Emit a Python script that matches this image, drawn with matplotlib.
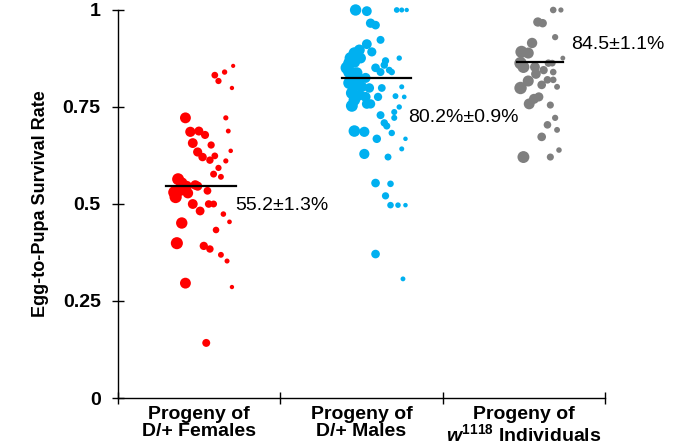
import numpy as np
import matplotlib.pyplot as plt

plt.rcParams['font.family'] = ['Liberation Sans', 'DejaVu Sans']
plt.rcParams['mathtext.fontset'] = 'custom'
plt.rcParams['mathtext.rm'] = 'Liberation Sans:bold'
plt.rcParams['mathtext.it'] = 'Liberation Sans:italic:bold'

# survival rate of each vial and the number of eggs scored in it
red_rate = [0.856, 0.832, 0.840, 0.817, 0.799, 0.722, 0.722, 0.686, 0.688, 0.678,
            0.688, 0.657, 0.652, 0.637, 0.634, 0.621, 0.613, 0.624, 0.611, 0.593,
            0.577, 0.570, 0.564, 0.554, 0.518, 0.536, 0.528, 0.549, 0.534, 0.500,
            0.482, 0.500, 0.500, 0.474, 0.454, 0.451, 0.433, 0.399, 0.392, 0.384,
            0.369, 0.353, 0.296, 0.286, 0.142, 0.546, 0.530, 0.546]
red_eggs = [11, 26, 18, 23, 12, 50, 17, 46, 39, 34,
            15, 44, 29, 13, 40, 36, 30, 26, 17, 23,
            27, 21, 56, 53, 58, 54, 48, 42, 32, 44,
            38, 31, 27, 19, 14, 53, 25, 57, 35, 30,
            21, 16, 50, 12, 33, 49, 59, 40]

blue_rate = [1.000, 0.997, 1.000, 1.000, 1.000, 0.966, 0.961, 0.923, 0.912, 0.897,
             0.889, 0.876, 0.863, 0.892, 0.869, 0.876, 0.851, 0.840, 0.858, 0.845,
             0.840, 0.840, 0.838, 0.825, 0.812, 0.807, 0.802, 0.799, 0.786, 0.781,
             0.776, 0.799, 0.802, 0.776, 0.778, 0.776, 0.753, 0.758, 0.758, 0.729,
             0.737, 0.750, 0.722, 0.709, 0.701, 0.683, 0.688, 0.686, 0.668, 0.668,
             0.642, 0.629, 0.621, 0.554, 0.552, 0.521, 0.497, 0.497, 0.497, 0.371,
             0.307, 0.866, 0.876, 0.851, 0.820, 0.768]
blue_eggs = [53, 44, 20, 16, 12, 41, 37, 33, 44, 50,
             54, 57, 58, 40, 29, 18, 37, 33, 30, 26,
             24, 58, 52, 45, 58, 53, 48, 42, 56, 50,
             45, 32, 16, 35, 21, 14, 56, 44, 41, 33,
             22, 18, 22, 30, 28, 24, 54, 46, 36, 13,
             16, 46, 27, 37, 25, 29, 25, 19, 13, 37,
             15, 54, 49, 60, 50, 54]

grey_rate = [1.000, 1.000, 0.969, 0.966, 0.930, 0.915, 0.892, 0.889, 0.863, 0.853,
             0.853, 0.863, 0.863, 0.876, 0.845, 0.840, 0.817, 0.835, 0.820, 0.820,
             0.799, 0.807, 0.802, 0.776, 0.771, 0.758, 0.755, 0.722, 0.704, 0.691,
             0.673, 0.639, 0.621, 0.621]
grey_eggs = [25, 17, 41, 36, 23, 47, 58, 51, 59, 56,
             44, 30, 26, 15, 35, 25, 51, 43, 31, 25,
             59, 37, 21, 40, 45, 50, 28, 23, 31, 21,
             37, 19, 28, 56]

medians = [0.546, 0.825, 0.866]
labels = ['55.2\u00b11.3%', '80.2%\u00b10.9%', '84.5\u00b11.1%']
groups = ['Progeny of\nD/+ Females', 'Progeny of\nD/+ Males',
          'Progeny of\n$\\mathit{w}^{\\mathit{1118}}$ Individuals']
colors = ['#ff0000', '#00b0f0', '#7f7f7f']

# horizontal placement of the bubbles inside each category (axis units)
spreads = [(0.340, 0.717), (0.410, 0.794), (0.474, 0.770)]
line_spans = [(0.297, 0.730), (0.379, 0.806), (0.455, 0.740)]
label_pos = [(0.725, 0.497), (0.790, 0.724), (0.790, 0.910)]

fig = plt.figure(figsize=(6.77, 4.44), dpi=100)
ax = fig.add_axes([0.1743, 0.1036, 0.7193, 0.8739])

for i, (rate, eggs) in enumerate([(red_rate, red_eggs), (blue_rate, blue_eggs),
                                  (grey_rate, grey_eggs)]):
    rate = np.array(rate)
    eggs = np.array(eggs, dtype=float)
    frac = (eggs - 10) / 50.0
    lo, hi = spreads[i]
    x = i + hi - frac * (hi - lo)
    radius_px = 2 + 4.3 * frac
    s = (2 * radius_px * 0.72) ** 2
    ax.scatter(x, rate, s=s, color=colors[i], linewidths=0, clip_on=False, zorder=2)
    ax.plot([i + line_spans[i][0], i + line_spans[i][1]], [medians[i]] * 2,
            color='black', lw=1.6, zorder=3)
    ax.text(i + label_pos[i][0], label_pos[i][1], labels[i], fontsize=14,
            va='center', ha='left')

ax.set_xlim(0, 3)
ax.set_ylim(0, 1)
ax.set_yticks([0, 0.25, 0.5, 0.75, 1])
ax.set_yticklabels(['0', '0.25', '0.5', '0.75', '1'], fontsize=14, fontweight='bold')
ax.set_xticks([0, 1, 2, 3])
ax.set_xticklabels([])
ax.set_xticks([0.5, 1.5, 2.5], minor=True)
ax.set_xticklabels(groups, minor=True, fontsize=14, fontweight='bold', linespacing=1.0)
ax.tick_params(axis='x', which='minor', length=0, pad=6)
ax.tick_params(axis='both', which='major', direction='inout', length=9, width=1)
ax.tick_params(axis='y', pad=8)
for side in ['top', 'right']:
    ax.spines[side].set_visible(False)
for side in ['left', 'bottom']:
    ax.spines[side].set_linewidth(1)
ax.set_ylabel('Egg-to-Pupa Survival Rate', fontsize=13, fontweight='bold', labelpad=10)

fig.savefig('out.png', dpi=100)
